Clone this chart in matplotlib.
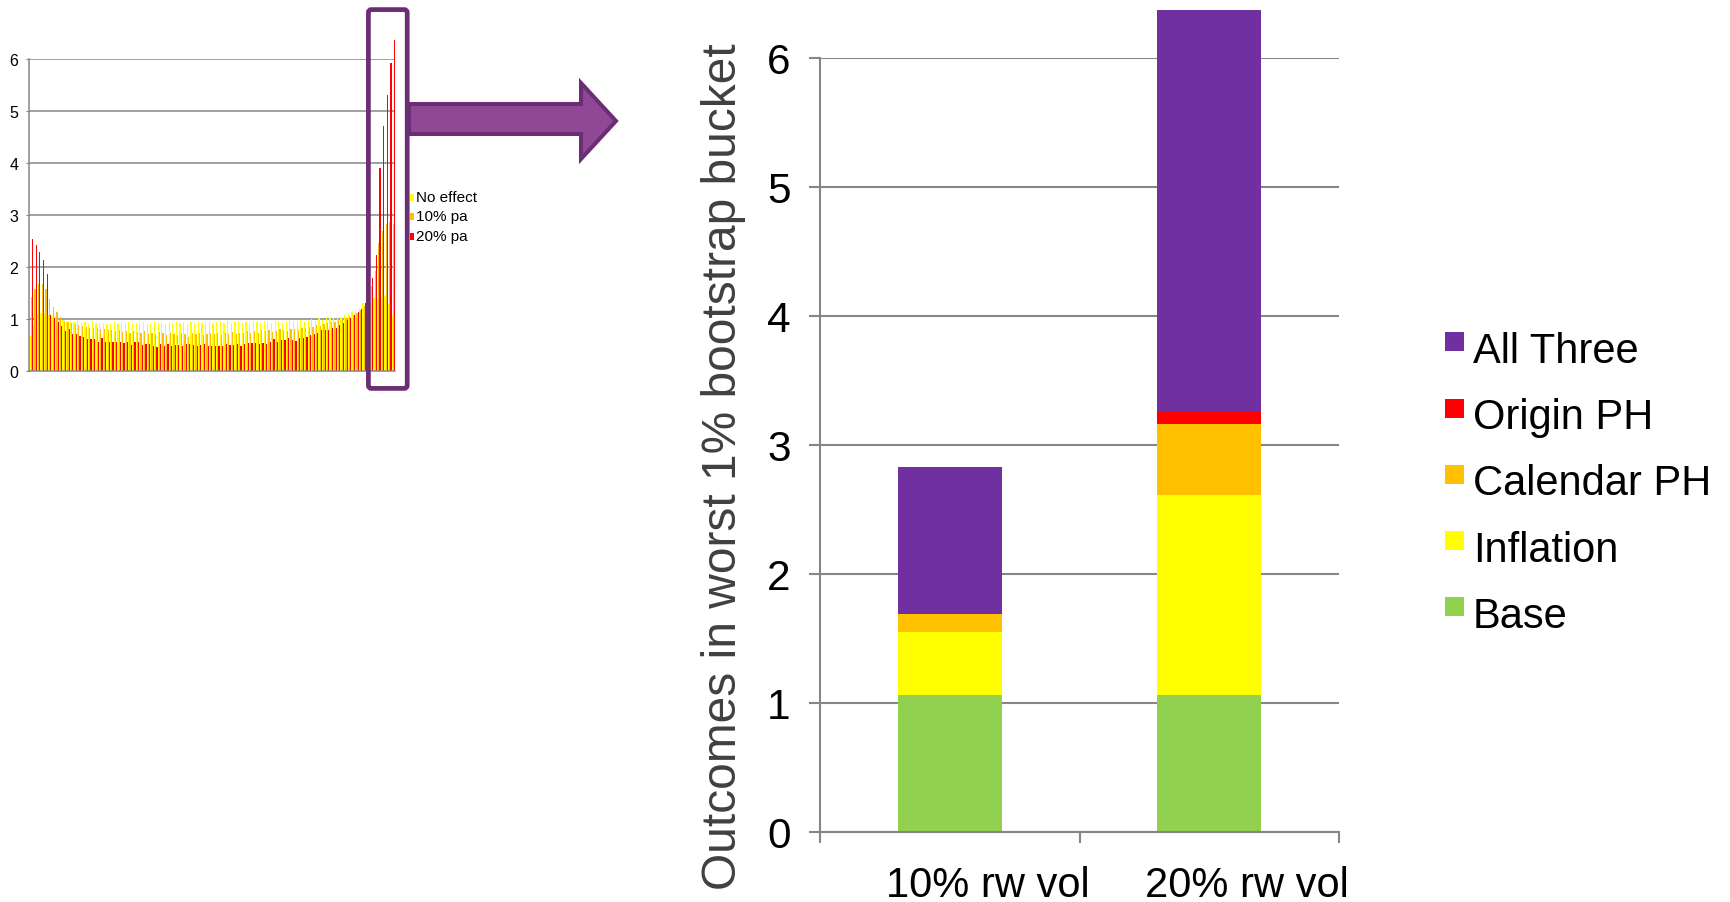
import numpy as np
import matplotlib.pyplot as plt
from matplotlib.patches import Rectangle, Polygon, FancyBboxPatch
from matplotlib.transforms import ScaledTranslation

plt.rcParams['font.family'] = ['Liberation Sans', 'DejaVu Sans']

# Stacked bars: contributions to outcomes in the worst 1% bucket
categories = ['10% rw vol', '20% rw vol']
base = [1.06, 1.06]
inflation = [0.49, 1.55]
calendar_ph = [0.14, 0.55]
origin_ph = [0.01, 0.10]
all_three = [1.13, 3.11]

layer_names = ['Base', 'Inflation', 'Calendar PH', 'Origin PH', 'All Three']
layer_colors = ['#92D050', '#FFFF00', '#FFC000', '#FF0000', '#7030A0']

# Percentile bucket distribution (100 buckets) for the inset chart
no_effect = [
    0.68, 0.88, 1.10, 1.12, 1.12, 1.08, 1.05, 1.03, 0.99, 0.98,
    0.97, 0.96, 0.95, 0.97, 0.93, 0.94, 0.92, 0.95, 0.93, 0.92,
    0.93, 0.91, 0.92, 0.94, 0.90, 0.93, 0.92, 0.95, 0.91, 0.93,
    0.92, 0.94, 0.93, 0.90, 0.95, 0.92, 0.93, 0.91, 0.94, 0.92,
    0.96, 0.93, 0.95, 0.91, 0.94, 0.93, 0.95, 0.92, 0.94, 0.96,
    0.93, 0.95, 0.94, 0.92, 0.96, 0.93, 0.95, 0.97, 0.92, 0.94,
    0.93, 0.96, 0.94, 0.93, 0.96, 0.94, 0.92, 0.97, 0.95, 0.93,
    0.96, 0.98, 0.94, 0.97, 0.99, 0.95, 0.98, 1.00, 0.97, 1.01,
    0.99, 1.02, 1.04, 1.01, 1.05, 1.03, 1.08, 1.12, 1.14, 1.16,
    1.20, 1.30, 1.38, 1.25, 1.40, 1.38, 1.42, 1.45, 1.28, 1.05,
]
ten_pa = [
    1.43, 1.58, 1.67, 1.68, 1.57, 1.38, 1.23, 1.13, 1.03, 0.97,
    0.95, 0.93, 0.90, 0.88, 0.87, 0.85, 0.82, 0.83, 0.82, 0.80,
    0.80, 0.78, 0.79, 0.76, 0.78, 0.75, 0.77, 0.74, 0.76, 0.75,
    0.73, 0.76, 0.72, 0.74, 0.71, 0.75, 0.73, 0.70, 0.74, 0.72,
    0.69, 0.73, 0.72, 0.66, 0.74, 0.71, 0.73, 0.70, 0.72, 0.74,
    0.71, 0.73, 0.69, 0.74, 0.72, 0.75, 0.71, 0.74, 0.73, 0.76,
    0.74, 0.76, 0.73, 0.78, 0.76, 0.78, 0.75, 0.77, 0.80, 0.79,
    0.77, 0.81, 0.80, 0.78, 0.83, 0.82, 0.85, 0.84, 0.88, 0.86,
    0.90, 0.92, 0.95, 0.94, 0.98, 1.00, 1.02, 1.06, 1.08, 1.12,
    1.17, 1.25, 1.40, 1.63, 1.92, 2.47, 2.69, 2.83, 2.87, 2.83,
]
twenty_pa = [
    2.53, 2.42, 2.28, 2.13, 1.87, 1.08, 1.02, 0.95, 0.86, 0.76,
    0.81, 0.72, 0.72, 0.68, 0.66, 0.62, 0.62, 0.61, 0.56, 0.63,
    0.55, 0.56, 0.56, 0.55, 0.55, 0.54, 0.55, 0.50, 0.55, 0.55,
    0.50, 0.52, 0.52, 0.48, 0.47, 0.52, 0.49, 0.51, 0.49, 0.50,
    0.50, 0.48, 0.51, 0.52, 0.50, 0.49, 0.50, 0.51, 0.48, 0.49,
    0.48, 0.49, 0.49, 0.52, 0.50, 0.50, 0.52, 0.49, 0.52, 0.53,
    0.53, 0.53, 0.52, 0.54, 0.51, 0.56, 0.61, 0.55, 0.59, 0.59,
    0.64, 0.59, 0.58, 0.64, 0.64, 0.66, 0.69, 0.72, 0.74, 0.78,
    0.78, 0.78, 0.82, 0.82, 0.88, 0.93, 0.98, 1.01, 1.07, 1.13,
    1.20, 1.30, 1.28, 1.78, 2.24, 3.91, 4.72, 5.30, 5.92, 6.37,
]
inset_names = ['No effect', '10% pa', '20% pa']
inset_colors = ['#FFFF00', '#FFC000', '#FF0000']

W, H = 1730, 903
GRID = '#868686'
fig = plt.figure(figsize=(W / 100, H / 100), dpi=100)


def px_axes(x0, y0, x1, y1):
    # axes placed in pixel coordinates, origin top-left
    return fig.add_axes([x0 / W, 1 - y1 / H, (x1 - x0) / W, (y1 - y0) / H])


# ---- inset: distribution across buckets
ax_s = px_axes(29.5, 60, 395.3, 372)
n = len(no_effect)
idx = np.arange(n)
for k, (vals, col) in enumerate(zip([no_effect, ten_pa, twenty_pa], inset_colors)):
    ax_s.bar(idx + (k + 0.5) / 3, vals, width=1 / 3, color=col, linewidth=0,
             clip_on=False, zorder=2)
ax_s.set_xlim(0, n)
ax_s.set_ylim(0, 6)
ax_s.set_yticks(range(7))
ax_s.set_xticks([])
ax_s.yaxis.grid(True, color=GRID, linewidth=1.1, zorder=1)
ax_s.set_axisbelow(True)
for s in ['top', 'right']:
    ax_s.spines[s].set_visible(False)
for s in ['left', 'bottom']:
    ax_s.spines[s].set_color(GRID)
    ax_s.spines[s].set_linewidth(1.1)
ax_s.tick_params(axis='y', length=2, color=GRID, pad=6, labelsize=11.5)

# ---- main stacked chart
ax = px_axes(820, 58.5, 1339, 833)
x = np.arange(len(categories))
layers = [base, inflation, calendar_ph, origin_ph, all_three]
bottom = np.zeros(len(categories))
for vals, name, col in zip(layers, layer_names, layer_colors):
    ax.bar(x, vals, width=0.4, bottom=bottom, color=col, linewidth=0,
           label=name, clip_on=False, zorder=2)
    bottom += np.array(vals)

ax.set_xlim(-0.5, len(categories) - 0.5)
ax.set_ylim(0, 6)
ax.set_yticks(range(7))
ax.yaxis.grid(True, color=GRID, linewidth=1.5, zorder=1)
ax.set_axisbelow(True)
for s in ['top', 'right']:
    ax.spines[s].set_visible(False)
for s in ['left', 'bottom']:
    ax.spines[s].set_color(GRID)
    ax.spines[s].set_linewidth(1.5)
ax.tick_params(axis='y', length=8, width=1.5, color=GRID, pad=13, labelsize=30.5)

ax.set_xticks(x)
ax.set_xticklabels(categories)
ax.set_xticks(np.arange(len(categories) + 1) - 0.5, minor=True)
ax.tick_params(axis='x', which='major', length=0, pad=24, labelsize=30)
ax.tick_params(axis='x', which='minor', length=8, width=1.5, color=GRID)
shift = ScaledTranslation(0.38, 0, fig.dpi_scale_trans)
for lbl in ax.get_xticklabels():
    lbl.set_transform(lbl.get_transform() + shift)

fig.text(724 / W, 1 - 467 / H, 'Outcomes in worst 1% bootstrap bucket',
         rotation=90, ha='center', va='center', fontsize=34.5, color='#404040')

# ---- overlay: highlight box, arrow, legends
ov = fig.add_axes([0, 0, 1, 1], zorder=10)
ov.set_xlim(0, W)
ov.set_ylim(H, 0)
ov.axis('off')
ov.patch.set_visible(False)

ov.add_patch(FancyBboxPatch((368.4, 10.6), 38.8, 378.8,
                            boxstyle='round,pad=0,rounding_size=3',
                            fill=False, edgecolor='#6B2D73', linewidth=3.4))
arrow_pts = [(409, 105), (581, 105), (581, 84), (616, 122),
             (581, 160), (581, 135), (409, 135)]
ov.add_patch(Polygon(arrow_pts, closed=True, facecolor='#8E4896',
                     edgecolor='#6B2D73', linewidth=2.9, joinstyle='miter'))

# inset legend
for i, (name, col) in enumerate(zip(inset_names, inset_colors)):
    yc = 198 + i * 19.5
    ov.add_patch(Rectangle((410, yc - 3.5), 3.5, 7, facecolor=col, linewidth=0))
    ov.text(416, yc, name, fontsize=11, va='center', ha='left')

# main legend, top entry is the top of the stack
for i, (name, col) in enumerate(zip(layer_names[::-1], layer_colors[::-1])):
    yc = 342.7 + i * 66.3
    ov.add_patch(Rectangle((1445, yc - 9.5), 19, 19, facecolor=col, linewidth=0))
    ov.text(1473, yc + 20, name, fontsize=30, va='baseline', ha='left')

fig.savefig('out.png', dpi=100)
